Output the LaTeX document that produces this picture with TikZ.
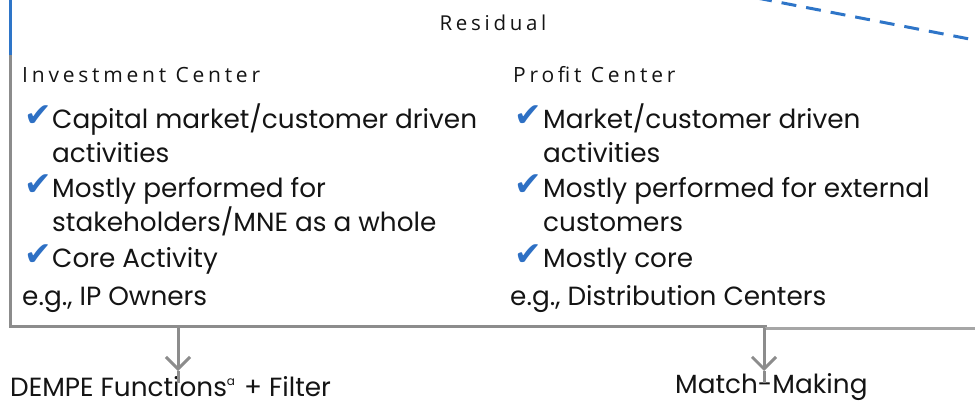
\documentclass[tikz,border=0pt]{standalone}
\usepackage{fontspec}
\usetikzlibrary{arrows.meta}
\setmainfont{Poppins}
\newfontfamily\headfont[LetterSpace=18]{Open Sans}
\newfontfamily\symfont{DejaVu Sans}
\definecolor{chkblue}{RGB}{46,112,196}
\definecolor{lineblue}{RGB}{46,117,200}
\definecolor{boxgray}{RGB}{140,140,140}
\definecolor{lightgray2}{RGB}{166,166,166}
\definecolor{txt}{RGB}{20,20,20}
\tikzset{
  body/.style={anchor=base west, inner sep=0pt, font=\fontsize{26.3}{30}\selectfont, text=txt},
  head/.style={anchor=base west, inner sep=0pt, font=\headfont\fontsize{21}{24}\selectfont, text=txt},
  chk/.style={anchor=base west, inner sep=0pt, font=\symfont\fontsize{33}{36}\selectfont, text=chkblue},
  frame/.style={draw=boxgray, line width=3pt},
  conn/.style={draw=boxgray, line width=3pt},
}
\begin{document}
\begin{tikzpicture}[x=1pt,y=-1pt]
\useasboundingbox (0,0) rectangle (975,405);
\clip (0,0) rectangle (975,405);
% frame
\coordinate (tl) at (10,0);
\coordinate (bm) at (10,55);
\coordinate (bl) at (10,326);
\coordinate (br) at (767,326);
\coordinate (rr0) at (765,328);
\coordinate (rr1) at (980,328);
\draw[draw=lineblue, line width=3pt] (tl) -- (bm);
\draw[frame] (bm) -- (bl) -- (br);
\draw[draw=lightgray2, line width=3pt] (rr0) -- (rr1);
% dashed
\coordinate (d0) at (757,-2);
\coordinate (d1) at (985,42);
\draw[draw=lineblue, line width=3pt, dash pattern=on 15pt off 10pt] (d0) -- (d1);
% headings
\node[anchor=base, inner sep=0pt, font=\headfont\fontsize{20.5}{24}\selectfont, text=txt] (res) at (493,30) {Residual};
\node[head] (ic) at (22,82) {Investment Center};
\node[head] (pc) at (513,82) {Profit Center};
% left column
\node[chk] (c1) at (24,126) {✔};
\node[body] (l1) at (52,128) {Capital market/customer driven};
\node[body] (l2) at (52,162) {activities};
\node[chk] (c2) at (24,195) {✔};
\node[body] (l3) at (52,197) {Mostly performed for};
\node[body] (l4) at (52,231) {stakeholders/MNE as a whole};
\node[chk] (c3) at (24,265) {✔};
\node[body] (l5) at (52,267) {Core Activity};
\node[body] (l6) at (22,305) {e.g., IP Owners};
% right column
\node[chk] (c4) at (514,126) {✔};
\node[body] (r1) at (543,128) {Market/customer driven};
\node[body] (r2) at (543,162) {activities};
\node[chk] (c5) at (514,195) {✔};
\node[body] (r3) at (543,197) {Mostly performed for external};
\node[body] (r4) at (543,231) {customers};
\node[chk] (c6) at (514,265) {✔};
\node[body] (r5) at (543,267) {Mostly core};
\node[body] (r6) at (510,305) {e.g., Distribution Centers};
% bottom labels
\node[body] (dempe) at (10,396) {DEMPE Functions\raisebox{11pt}{\fontsize{12}{12}\selectfont a}\hspace{2pt} + Filter};
\node[body] (mm) at (675,393) {Match-Making};
% arrows
\coordinate (a1s) at (178,326);
\coordinate (a1t) at (178,371);
\coordinate (a1e) at (178,383);
\draw[conn, -{Straight Barb[length=12pt, width=24pt, line width=3pt]}] (a1s) -- (a1t);
\draw[conn] (a1t) -- (a1e);
\coordinate (a2s) at (764,328);
\coordinate (a2t) at (764,371);
\coordinate (a2e) at (764,383);
\draw[conn, -{Straight Barb[length=12pt, width=24pt, line width=3pt]}] (a2s) -- (a2t);
\draw[conn] (a2t) -- (a2e);
\end{tikzpicture}
\end{document}
